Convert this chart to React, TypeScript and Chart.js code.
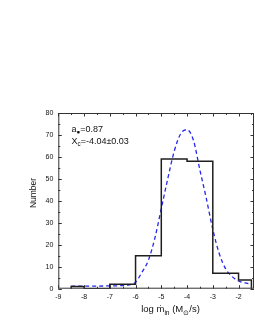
import React, { useEffect, useRef } from "react";
import { Chart, registerables } from "chart.js";

Chart.register(...registerables);

// Histogram: bin edges and counts
const binEdges = [-8.5, -8, -7, -6, -5, -4, -3, -2, -1.5];
const binCounts = [1, 0, 2, 15, 59, 58, 7, 4];

// Fitted curve
const curveX = [-8.5, -8, -7.5, -7, -6.5, -6.25, -6, -5.75, -5.5, -5.25, -5, -4.75, -4.5, -4.25, -4, -3.75, -3.5, -3.25, -3, -2.75, -2.5, -2.25, -2, -1.75, -1.5];
const curveY = [1.2, 1.2, 1.2, 1.3, 1.4, 1.7, 3.0, 7.5, 13, 23, 36.5, 50, 62.5, 70.5, 72.4, 67.5, 54, 41, 27, 16, 9, 5.5, 3.5, 2.6, 2.0];

const xTickValues = [-9, -8, -7, -6, -5, -4, -3, -2];
const yTickValues = [0, 10, 20, 30, 40, 50, 60, 70, 80];
const xMinorValues = [-8.5, -7.5, -6.5, -5.5, -4.5, -3.5, -2.5, -1.5];
const yMinorValues = [5, 15, 25, 35, 45, 55, 65, 75];

const FONT = "'Liberation Sans', Arial, sans-serif";

const framePlugin = {
  id: "frame",
  afterDraw(chart: any) {
    const ctx = chart.ctx;
    const { left, right, top, bottom } = chart.chartArea;
    const xs = chart.scales.x;
    const ys = chart.scales.y;
    ctx.save();
    ctx.strokeStyle = "#333";
    ctx.lineWidth = 1;
    ctx.strokeRect(left + 0.5, top + 0.5, right - left - 1, bottom - top - 1);
    ctx.beginPath();
    const tick = (len: number, vals: number[], axis: "x" | "y") => {
      for (const v of vals) {
        if (axis === "x") {
          const px = Math.round(xs.getPixelForValue(v)) + 0.5;
          ctx.moveTo(px, bottom);
          ctx.lineTo(px, bottom - len);
          ctx.moveTo(px, top);
          ctx.lineTo(px, top + len);
        } else {
          const py = Math.round(ys.getPixelForValue(v)) + 0.5;
          ctx.moveTo(left, py);
          ctx.lineTo(left + len, py);
          ctx.moveTo(right, py);
          ctx.lineTo(right - len, py);
        }
      }
    };
    tick(3.5, xTickValues, "x");
    tick(2, xMinorValues, "x");
    tick(3.5, yTickValues, "y");
    tick(2, yMinorValues, "y");
    ctx.stroke();

    ctx.fillStyle = "#111";
    // y title
    ctx.save();
    ctx.translate(36, 193);
    ctx.rotate(-Math.PI / 2);
    ctx.font = `8.5px ${FONT}`;
    ctx.textAlign = "center";
    ctx.textBaseline = "alphabetic";
    ctx.fillText("Number", 0, 0);
    ctx.restore();

    const drawRich = (parts: { t: string; sub?: boolean }[], x: number, y: number, size: number) => {
      let cx = x;
      ctx.textBaseline = "alphabetic";
      ctx.textAlign = "left";
      for (const p of parts) {
        ctx.font = `${p.sub ? size * 0.7 : size}px ${FONT}`;
        ctx.fillText(p.t, cx, p.sub ? y + size * 0.3 : y);
        cx += ctx.measureText(p.t).width;
      }
      return cx;
    };
    const measureRich = (parts: { t: string; sub?: boolean }[], size: number) => {
      let w = 0;
      for (const p of parts) {
        ctx.font = `${p.sub ? size * 0.7 : size}px ${FONT}`;
        w += ctx.measureText(p.t).width;
      }
      return w;
    };
    // x title: log ṁ_in (M_⊙/s)
    const xt = [
      { t: "log \u1E41" },
      { t: "in", sub: true },
      { t: " (M" },
      { t: "\u2299", sub: true },
      { t: "/s)" },
    ];
    const w = measureRich(xt, 9.5);
    drawRich(xt, 170.5 - w / 2, 312, 9.5);

    // annotations
    drawRich([{ t: "a" }, { t: "\u25CF", sub: true }, { t: "=0.87" }], 71.5, 131.5, 9);
    drawRich([{ t: "X" }, { t: "c", sub: true }, { t: "=-4.04\u00B10.03" }], 71.5, 143.5, 9);
    ctx.restore();
  },
};

export default function App() {
  const ref = useRef<HTMLCanvasElement>(null);
  useEffect(() => {
    if (!ref.current) return;
    const histPts: { x: number; y: number }[] = [{ x: binEdges[0], y: 0 }];
    for (let i = 0; i < binCounts.length; i++) {
      histPts.push({ x: binEdges[i], y: binCounts[i] });
      histPts.push({ x: binEdges[i + 1], y: binCounts[i] });
    }
    histPts.push({ x: binEdges[binEdges.length - 1], y: 0 });
    const curvePts = curveX.map((x, i) => ({ x, y: curveY[i] }));

    const chart = new Chart(ref.current, {
      type: "line",
      data: {
        datasets: [
          {
            data: histPts,
            borderColor: "#1e1e1e",
            borderWidth: 1.5,
            pointRadius: 0,
            tension: 0,
            fill: false,
          },
          {
            data: curvePts,
            borderColor: "#2626f0",
            borderWidth: 1.3,
            borderDash: [4, 3],
            pointRadius: 0,
            cubicInterpolationMode: "monotone",
            fill: false,
          },
        ],
      } as any,
      options: {
        animation: false,
        responsive: false,
        maintainAspectRatio: false,
        layout: { padding: { top: 113, right: 1, left: 0, bottom: 0 } },
        plugins: { legend: { display: false }, tooltip: { enabled: false } },
        scales: {
          x: {
            type: "linear",
            min: -9,
            max: -1.4,
            grid: { display: false, drawTicks: false },
            border: { display: false },
            afterBuildTicks: (s: any) => {
              s.ticks = xTickValues.map((v) => ({ value: v }));
            },
            afterFit: (s: any) => {
              s.height = 41.3;
            },
            ticks: {
              padding: 4,
              color: "#111",
              font: { family: FONT, size: 7 },
              maxRotation: 0,
              autoSkip: false,
              callback: (v: any) => String(v),
            },
          },
          y: {
            type: "linear",
            min: 0,
            max: 80,
            grid: { display: false, drawTicks: false },
            border: { display: false },
            afterBuildTicks: (s: any) => {
              s.ticks = yTickValues.map((v) => ({ value: v }));
            },
            afterFit: (s: any) => {
              s.width = 58.3;
            },
            ticks: {
              padding: 5,
              color: "#111",
              font: { family: FONT, size: 7 },
              autoSkip: false,
              callback: (v: any) => String(v),
            },
          },
        },
      } as any,
      plugins: [framePlugin],
    });
    return () => chart.destroy();
  }, []);
  return (
    <div style={{ position: "fixed", left: 0, top: 0, width: 255, height: 330, background: "#fff" }}>
      <canvas ref={ref} width={255} height={330} style={{ display: "block" }} />
    </div>
  );
}
